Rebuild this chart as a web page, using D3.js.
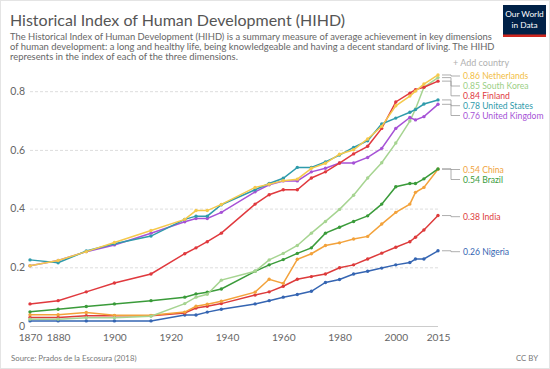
<!DOCTYPE html>
<html><head><meta charset="utf-8">
<script src="https://cdn.jsdelivr.net/npm/d3@7"></script>
<style>
html,body{margin:0;padding:0;background:#fff;}
svg{display:block;font-family:Lato,"Noto Sans",sans-serif;}
</style></head>
<body><svg id="chart" width="550" height="369"></svg>
<script>
const years = [1870,1880,1890,1900,1913,1925,1929,1933,1938,1950,1955,1960,1965,1970,1975,1980,1985,1990,1995,2000,2005,2007,2010,2015];
const netherlands = [0.207,0.225,0.255,0.286,0.327,0.365,0.395,0.395,0.416,0.474,0.485,0.497,0.502,0.539,0.556,0.587,0.602,0.639,0.682,0.752,0.785,0.802,0.826,0.857];
const southKorea = [0.025,0.025,0.03,0.03,0.035,0.078,0.1,0.11,0.158,0.188,0.227,0.249,0.276,0.318,0.358,0.399,0.447,0.506,0.558,0.625,0.7,0.741,0.815,0.848];
const finland = [0.077,0.088,0.118,0.148,0.179,0.248,0.268,0.289,0.318,0.417,0.449,0.466,0.466,0.506,0.527,0.557,0.588,0.614,0.675,0.765,0.795,0.807,0.815,0.836];
const unitedStates = [0.227,0.217,0.257,0.282,0.308,0.365,0.376,0.376,0.415,0.466,0.487,0.505,0.542,0.542,0.561,0.584,0.61,0.633,0.69,0.71,0.73,0.739,0.758,0.772];
const unitedKingdom = [0.207,0.225,0.255,0.278,0.318,0.357,0.368,0.368,0.389,0.459,0.483,0.496,0.496,0.527,0.539,0.557,0.557,0.576,0.607,0.675,0.712,0.704,0.715,0.757];
const china = [0.04,0.04,0.048,0.038,0.038,0.049,0.069,0.076,0.086,0.117,0.161,0.147,0.229,0.248,0.276,0.285,0.298,0.307,0.349,0.389,0.417,0.457,0.474,0.536];
const brazil = [0.05,0.059,0.068,0.077,0.088,0.1,0.111,0.117,0.128,0.188,0.21,0.228,0.249,0.268,0.318,0.338,0.358,0.377,0.417,0.476,0.487,0.487,0.503,0.537];
const india = [0.031,0.031,0.037,0.037,0.037,0.046,0.063,0.069,0.078,0.107,0.118,0.137,0.161,0.17,0.179,0.2,0.21,0.23,0.25,0.27,0.289,0.304,0.329,0.378];
const nigeria = [0.019,0.019,0.019,0.019,0.019,0.039,0.039,0.049,0.059,0.077,0.088,0.1,0.109,0.12,0.15,0.16,0.179,0.188,0.199,0.21,0.218,0.23,0.23,0.258];

const countries = ["Nigeria","India","China","Brazil","South Korea","United Kingdom","Finland","United States","Netherlands"];
const seriesValues = [nigeria, india, china, brazil, southKorea, unitedKingdom, finland, unitedStates, netherlands];
const colors = ["#3565b2","#dd3b3b","#f3a23b","#3a9b3a","#a6d491","#a652d6","#e0393e","#2f9bab","#f5c94c"];
const labelColors = ["#3565b2","#dd3b3b","#f0a33d","#3a9b3a","#9bcf86","#a652d6","#e0393e","#2f9bab","#f2be45"];
const labelTexts = ["0.26 Nigeria","0.38 India","0.54 China","0.54 Brazil","0.85 South Korea","0.76 United Kingdom","0.84 Finland","0.78 United States","0.86 Netherlands"];
const labelY = [251.7,216.7,169.5,179.5,86,115.5,95.8,105.7,76];

const xTicks = [1870,1880,1900,1920,1940,1960,1980,2000,2015];
const yTicks = [0,0.2,0.4,0.6,0.8];
const yTickLabels = ["0","0.2","0.4","0.6","0.8"];

const svg = d3.select("#chart");
svg.append("rect").attr("x",0.5).attr("y",0.5).attr("width",549).attr("height",368)
  .attr("fill","#fff").attr("stroke","#e4e4e4");

const x = d3.scaleLinear().domain([1870,2015]).range([30,438]);
const y = d3.scaleLinear().domain([0,0.8]).range([326.5,91.7]);

// title
svg.append("text").attr("x",10).attr("y",26).attr("font-size",16).attr("fill","#555").text("Historical Index of Human Development (HIHD)");
const sub = ["The Historical Index of Human Development (HIHD) is a summary measure of average achievement in key dimensions",
 "of human development: a long and healthy life, being knowledgeable and having a decent standard of living. The HIHD",
 "represents in the index of each of the three dimensions."];
sub.forEach((s,i)=>svg.append("text").attr("x",10).attr("y",39.5+i*10.2).attr("font-size",9.4).attr("fill","#666").text(s));

// logo
const logo = svg.append("g");
logo.append("rect").attr("x",503).attr("y",5).attr("width",43).attr("height",32).attr("fill","#002147");
logo.append("rect").attr("x",503).attr("y",34.5).attr("width",43).attr("height",2.5).attr("fill","#ce261e");
logo.append("text").attr("x",524.5).attr("y",17).attr("text-anchor","middle").attr("font-size",8.3).attr("fill","#fff").text("Our World");
logo.append("text").attr("x",524.5).attr("y",28).attr("text-anchor","middle").attr("font-size",8.3).attr("fill","#fff").text("in Data");

// add country
svg.append("text").attr("x",453).attr("y",66).attr("font-size",9).attr("fill","#b0b0b0").text("+ Add country");

// grid
const grid = svg.append("g");
yTicks.forEach((t,i)=>{
  if(t>0){
    grid.append("line").attr("x1",30).attr("x2",438).attr("y1",y(t)).attr("y2",y(t))
      .attr("stroke","#ddd").attr("stroke-dasharray","3,2").attr("stroke-width",1);
  }
  grid.append("text").attr("x",25).attr("y",y(t)+3.2).attr("text-anchor","end")
    .attr("font-size",10.5).attr("fill","#666").text(yTickLabels[i]);
});
grid.append("line").attr("x1",30).attr("x2",438).attr("y1",y(0)).attr("y2",y(0)).attr("stroke","#ccc");

const xAxis = d3.axisBottom(x).tickValues(xTicks).tickFormat(d3.format("d")).tickSize(0).tickPadding(7.5);
const xg = svg.append("g").attr("transform",`translate(0,${y(0)})`).call(xAxis);
xg.select(".domain").remove();
xg.selectAll("text").attr("font-size",10.2).attr("fill","#666").attr("font-family","Lato");

// lines
const line = d3.line().x((d,i)=>x(years[i])).y(d=>y(d));
seriesValues.forEach((vals,k)=>{
  const g = svg.append("g");
  g.append("path").datum(vals).attr("d",line).attr("fill","none").attr("stroke",colors[k]).attr("stroke-width",1.5);
  g.selectAll("circle").data(vals).join("circle").attr("cx",(d,i)=>x(years[i])).attr("cy",d=>y(d)).attr("r",1.7).attr("fill",colors[k]);
});

// labels with connectors
seriesValues.forEach((vals,k)=>{
  const ey = y(vals[vals.length-1]);
  const ly = labelY[k];
  const x0 = 442, xm = 451, x1 = 460;
  svg.append("path").attr("d",`M${x0},${ey}H${xm}V${ly}H${x1}`).attr("fill","none").attr("stroke","#999").attr("stroke-width",0.8);
  svg.append("text").attr("x",463).attr("y",ly+3).attr("font-size",8.6).attr("fill",labelColors[k]).text(labelTexts[k]);
});

// footer
svg.append("text").attr("x",11).attr("y",361).attr("font-size",7.8).attr("fill","#777").text("Source: Prados de la Escosura (2018)");
svg.append("text").attr("x",538).attr("y",361).attr("text-anchor","end").attr("font-size",7.8).attr("fill","#777").text("CC BY");
</script></body></html>
